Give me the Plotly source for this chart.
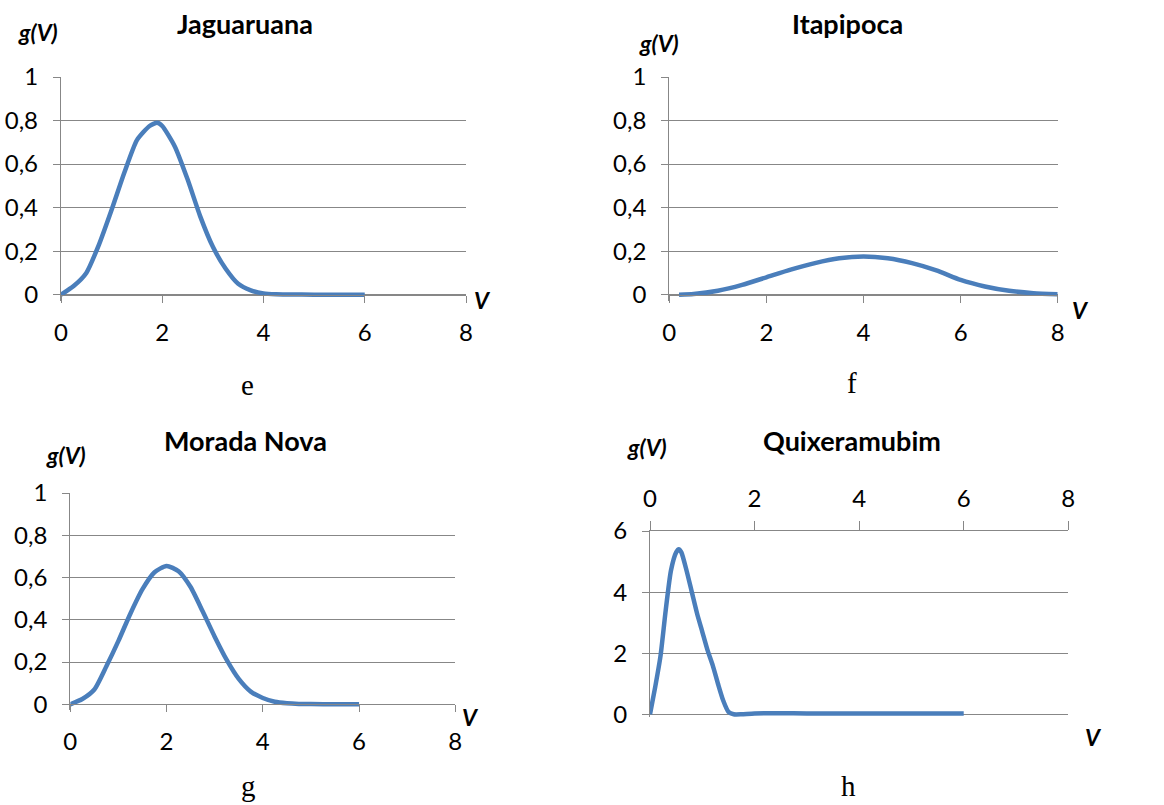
import plotly.graph_objects as go

# ---------------- data ----------------
v_e = [0, 0.25, 0.5, 0.75, 1.0, 1.25, 1.5, 1.75, 1.9, 2.0, 2.25, 2.5, 2.75, 3.0, 3.25, 3.5, 3.75, 4.0, 4.25, 4.5, 5.0, 5.5, 6.0]
g_e = [0, 0.04, 0.10, 0.23, 0.39, 0.56, 0.71, 0.775, 0.79, 0.775, 0.68, 0.53, 0.36, 0.22, 0.12, 0.05, 0.02, 0.006, 0.002, 0.001, 0, 0, 0]

v_f = [0.2, 0.5, 1.0, 1.5, 2.0, 2.5, 3.0, 3.5, 4.0, 4.5, 5.0, 5.5, 6.0, 6.5, 7.0, 7.5, 8.0]
g_f = [0.0, 0.003, 0.018, 0.045, 0.08, 0.115, 0.145, 0.167, 0.175, 0.167, 0.145, 0.112, 0.068, 0.038, 0.018, 0.007, 0.002]

v_g = [0, 0.25, 0.5, 0.75, 1.0, 1.25, 1.5, 1.75, 2.0, 2.25, 2.5, 2.75, 3.0, 3.25, 3.5, 3.75, 4.0, 4.25, 4.5, 4.75, 5.0, 5.5, 6.0]
g_g = [0, 0.025, 0.07, 0.18, 0.30, 0.43, 0.545, 0.625, 0.655, 0.63, 0.555, 0.44, 0.32, 0.21, 0.12, 0.06, 0.03, 0.012, 0.005, 0.002, 0.001, 0, 0]

v_h = [0, 0.1, 0.2, 0.3, 0.4, 0.5, 0.55, 0.6, 0.7, 0.8, 0.9, 1.0, 1.1, 1.2, 1.3, 1.4, 1.5, 1.6, 1.75, 2.0, 3.0, 4.0, 5.0, 6.0]
g_h = [0, 0.9, 1.9, 3.4, 4.7, 5.3, 5.4, 5.3, 4.7, 4.0, 3.3, 2.7, 2.1, 1.6, 1.0, 0.45, 0.08, 0.0, 0.0, 0.03, 0.03, 0.03, 0.03, 0.03]

titles = ["Jaguaruana", "Itapipoca", "Morada Nova", "Quixeramubim"]
letters = ["e", "f", "g", "h"]

x_ticks = [0, 2, 4, 6, 8]
x_ticktext = ["0", "2", "4", "6", "8"]
y_ticks_a = [0, 0.2, 0.4, 0.6, 0.8, 1.0]
y_ticktext_a = ["0", "0,2", "0,4", "0,6", "0,8", "1"]
y_ticks_h = [0, 2, 4, 6]
y_ticktext_h = ["0", "2", "4", "6"]

# ---------------- layout helpers ----------------
W, H = 1164, 805
def px(x):
    return x / W
def py(y):
    return 1 - y / H

LINE = "#4A7EBB"
GRID = "#878787"
FONT = "Lato"
TICK_SIZE = 24

panels = [
    dict(xl=61, xr=466, yt=77, y0=294.7, ymax=1.0, pad=6, top=False),
    dict(xl=669.3, xr=1057.7, yt=77, y0=294.7, ymax=1.0, pad=6, top=False),
    dict(xl=70.3, xr=455.3, yt=493, y0=704.3, ymax=1.0, pad=6, top=False),
    dict(xl=650, xr=1068.3, yt=531, y0=714.3, ymax=6.0, pad=3, top=True),
]
series = [(v_e, g_e), (v_f, g_f), (v_g, g_g), (v_h, g_h)]

fig = go.Figure()
layout = dict(
    width=W, height=H, margin=dict(l=0, r=0, t=0, b=0, autoexpand=False),
    paper_bgcolor="white", plot_bgcolor="white", showlegend=False,
    font=dict(family=FONT, size=TICK_SIZE, color="#000000"),
)

for i, (p, (vx, vy)) in enumerate(zip(panels, series)):
    n = "" if i == 0 else str(i + 1)
    fig.add_trace(go.Scatter(
        x=vx, y=vy, mode="lines", xaxis="x" + n, yaxis="y" + n,
        line=dict(color=LINE, width=4.5, shape="spline", smoothing=0.6),
        hoverinfo="skip",
    ))
    h0 = p["y0"] - p["yt"]
    ylo = -(p["pad"] / h0) * p["ymax"]
    ydom = [py(p["y0"] + p["pad"]), py(p["yt"])]
    common = dict(automargin=False, showgrid=False, zeroline=False, showline=True,
                  linecolor=GRID, linewidth=1.3, ticks="outside", tickcolor=GRID,
                  tickwidth=1.3, tickvals=x_ticks, ticktext=x_ticktext,
                  tickfont=dict(size=TICK_SIZE))
    if p["top"]:
        xa = dict(domain=[px(p["xl"]), px(p["xr"])], range=[0, 8], anchor="y" + n,
                  side="top", ticklen=9, ticklabelstandoff=4, **common)
        yvals, ytext = y_ticks_h, y_ticktext_h
    else:
        xa = dict(domain=[px(p["xl"]), px(p["xr"])], range=[0, 8], anchor="free",
                  position=py(p["y0"]), ticklen=7, ticklabelstandoff=9, **common)
        yvals, ytext = y_ticks_a, y_ticktext_a
    ya = dict(domain=ydom, range=[ylo, p["ymax"]], anchor="x" + n, automargin=False,
              showgrid=True, gridcolor=GRID, gridwidth=1.3, zeroline=False,
              showline=True, linecolor=GRID, linewidth=1.3, ticks="outside",
              ticklen=7, tickcolor=GRID, tickwidth=1.3, tickvals=yvals, ticktext=ytext,
              ticklabelstandoff=10, tickfont=dict(size=TICK_SIZE))
    layout["xaxis" + n] = xa
    layout["yaxis" + n] = ya

fig.update_layout(**layout)

# ---------------- text annotations ----------------
ann_pos = {
    "title": [(245, 23), (847, 23), (245, 440), (852, 440)],
    "gv": [(38, 32), (659, 43), (66, 455), (647, 447)],
    "V": [(482, 300), (1080, 310), (470, 717), (1093, 737)],
    "letter": [(247, 385), (852, 383), (248, 786), (848, 786)],
}
for i in range(4):
    x, y = ann_pos["title"][i]
    fig.add_annotation(x=px(x), y=py(y), xref="paper", yref="paper", text=titles[i],
                       showarrow=False, xanchor="center", yanchor="middle",
                       font=dict(family=FONT, size=27, weight="bold", color="black"))
    x, y = ann_pos["gv"][i]
    fig.add_annotation(x=px(x), y=py(y), xref="paper", yref="paper", text="g(V)",
                       showarrow=False, xanchor="center", yanchor="middle",
                       font=dict(family=FONT, size=23, weight="bold", style="italic", color="black"))
    x, y = ann_pos["V"][i]
    fig.add_annotation(x=px(x), y=py(y), xref="paper", yref="paper", text="V",
                       showarrow=False, xanchor="center", yanchor="middle",
                       font=dict(family=FONT, size=23, weight="bold", style="italic", color="black"))
    x, y = ann_pos["letter"][i]
    fig.add_annotation(x=px(x), y=py(y), xref="paper", yref="paper", text=letters[i],
                       showarrow=False, xanchor="center", yanchor="middle",
                       font=dict(family="Liberation Serif", size=29, color="black"))

fig.write_html("out.html")
